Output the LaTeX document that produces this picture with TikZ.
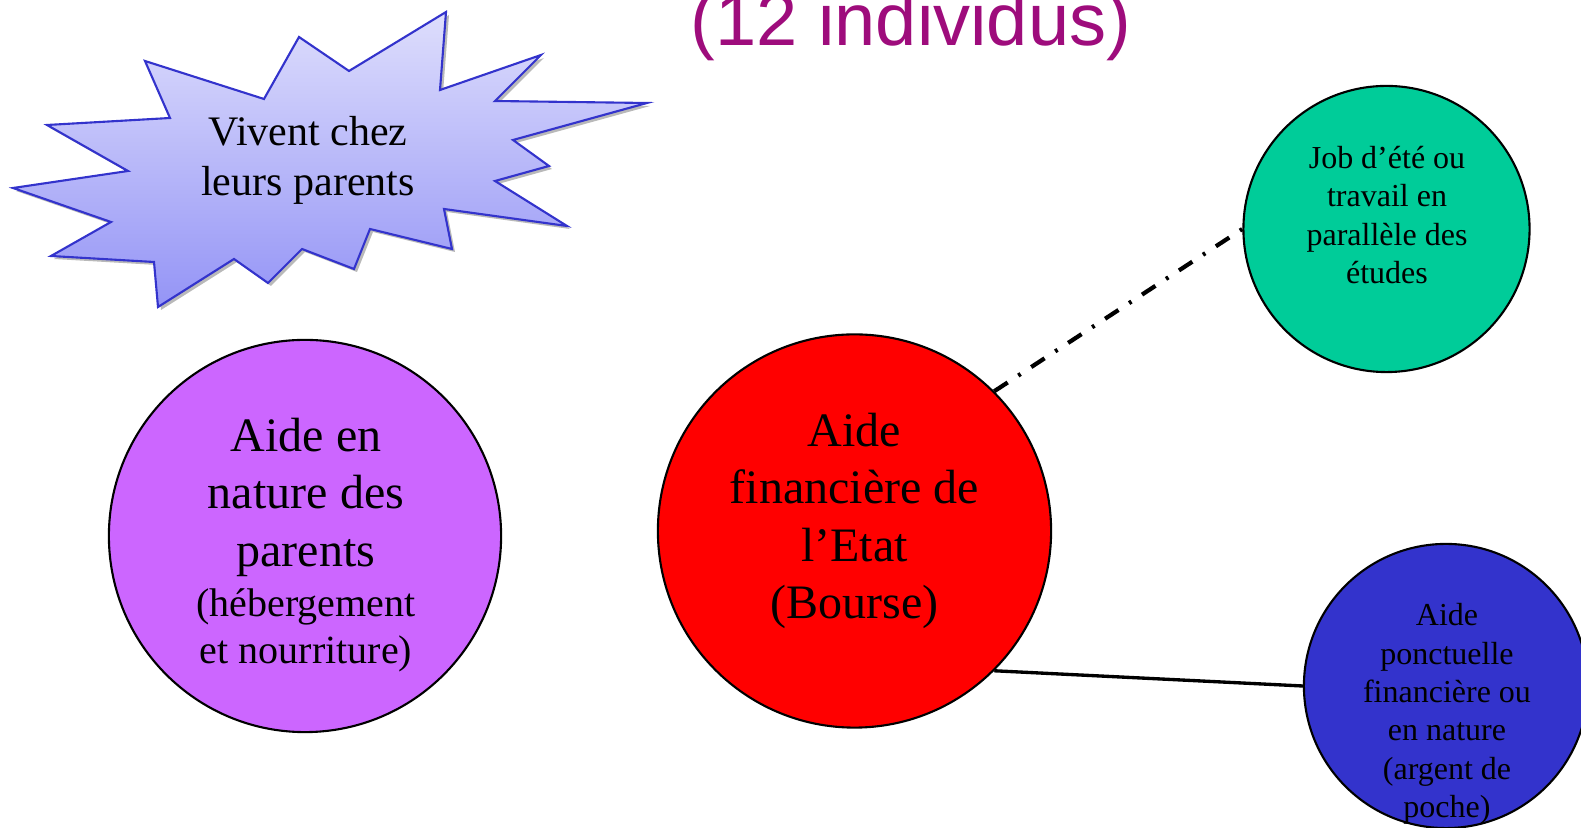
\documentclass[tikz,border=0pt]{standalone}
\usepackage{fontspec}
\setmainfont{Liberation Serif}
\newfontfamily\titlefont{Liberation Sans}
\usepackage{tikz}

\definecolor{titlepurple}{RGB}{158,12,124}
\definecolor{naturefill}{RGB}{204,102,255}
\definecolor{jobfill}{RGB}{0,204,153}
\definecolor{ponctfill}{RGB}{51,51,204}
\definecolor{burstline}{RGB}{51,51,204}
\definecolor{bursttop}{RGB}{222,222,252}
\definecolor{burstbottom}{RGB}{148,148,246}

\tikzset{
  bubble/.style={circle, draw=black, line width=0.6pt, inner sep=0pt},
  bigtxt/.style={align=center, font=\fontsize{13.66}{16.36}\selectfont},
  smalltxt/.style={align=center, font=\fontsize{9.1}{10.93}\selectfont},
  link/.style={line width=0.95pt},
  linkdash/.style={line width=1.2pt, dash pattern=on 4.55pt off 3.6pt on 0.8pt off 3.6pt},
}

\begin{document}
\begin{tikzpicture}[x=0.01cm, y=-0.01cm]
  \useasboundingbox (0,0) rectangle (1581,828);

  % title
  \node[anchor=base, text=titlepurple, font=\titlefont\fontsize{21.05}{25}\selectfont] (titre) at (911,46) {(12 individus)};

  % burst
  \draw[burstline, line width=0.6pt, top color=bursttop, bottom color=burstbottom,
        preaction={fill=gray!55, transform canvas={shift={(3,3)}}}]
    (145,61) -- (170,118) -- (47,125) -- (128,171) -- (13,188) -- (111,222)
    -- (51,256) -- (154,262) -- (158,307) -- (234,259) -- (268,283) -- (302,249)
    -- (354,269) -- (370,229) -- (452,249) -- (444,209) -- (567,226) -- (495,181)
    -- (549,166) -- (513,140) -- (647,103) -- (495,101) -- (541,55) -- (440,90)
    -- (446,12) -- (349,71) -- (299,37) -- (264,99) -- cycle;

  % circles
  \node[bubble, fill=naturefill, minimum size=3.92cm] (nature) at (305,536) {};
  \node[bubble, fill=red, minimum size=3.93cm] (etat) at (854.5,531) {};
  \node[bubble, fill=jobfill, minimum size=2.86cm] (job) at (1386.5,229) {};
  \node[bubble, fill=ponctfill, minimum size=2.84cm] (ponct) at (1446,686) {};

  % texts
  \node[align=center, font=\fontsize{11.95}{14.23}\selectfont] (vivent) at (308,160) {Vivent chez\\leurs parents};
  \node[bigtxt] (nature-txt) at (306,497) {Aide en\\nature des\\parents};
  \node[align=center, font=\fontsize{11.38}{13.4}\selectfont] (hebergement) at (306,630) {(hébergement\\et nourriture)};
  \node[bigtxt] (etat-txt) at (854.5,521) {Aide\\financière de\\l’Etat\\(Bourse)};
  \node[smalltxt] (job-txt) at (1387,215) {Job d’été ou\\travail en\\parallèle des\\études};
  \node[smalltxt] (ponct-txt) at (1447,714) {Aide\\ponctuelle\\financière ou\\en nature\\(argent de\\poche)};

  % links
  \draw[linkdash] (etat.45) -- (job.west);
  \draw[link] (etat.-45) -- (ponct.west);

\end{tikzpicture}
\end{document}
